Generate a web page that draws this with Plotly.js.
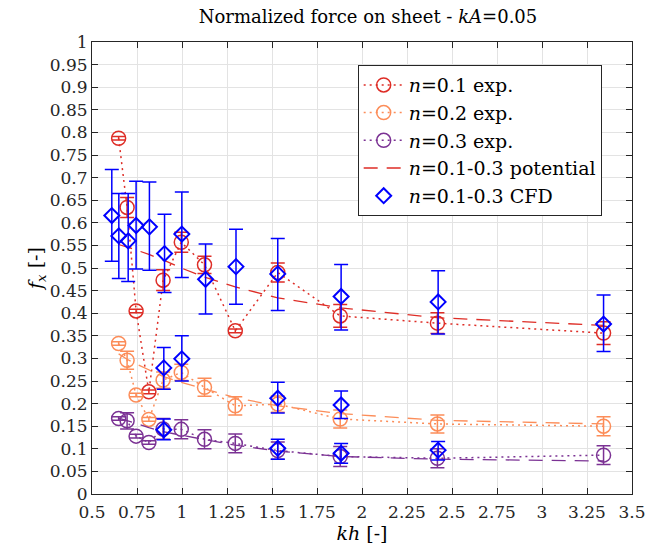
<!DOCTYPE html>
<html>
<head>
<meta charset="utf-8">
<script src="https://cdn.plot.ly/plotly-3.0.1.min.js"></script>
<style>html,body{margin:0;padding:0;background:#fff;}#chart{width:649px;height:555px;}</style>
</head>
<body>
<div id="chart"></div>
<script>
// Experimental kh values
const khExp = [0.648, 0.695, 0.745, 0.816, 0.895, 0.996, 1.125, 1.296, 1.532, 1.879, 2.419, 3.342];
// n = 0.1 experiment
const fxN01 = [0.787, 0.634, 0.405, 0.226, 0.473, 0.557, 0.507, 0.361, 0.490, 0.394, 0.378, 0.356];
const errN01 = [0.004, 0.022, 0.004, 0.004, 0.023, 0.022, 0.019, 0.004, 0.021, 0.025, 0.023, 0.025];
// n = 0.2 experiment
const fxN02 = [0.333, 0.296, 0.219, 0.165, 0.252, 0.269, 0.236, 0.195, 0.199, 0.166, 0.155, 0.150];
const errN02 = [0.004, 0.020, 0.004, 0.004, 0.018, 0.018, 0.020, 0.020, 0.018, 0.020, 0.020, 0.021];
// n = 0.3 experiment
const fxN03 = [0.167, 0.162, 0.128, 0.114, 0.144, 0.143, 0.121, 0.112, 0.096, 0.083, 0.079, 0.086];
const errN03 = [0.004, 0.018, 0.004, 0.004, 0.023, 0.021, 0.021, 0.021, 0.019, 0.022, 0.021, 0.021];
// potential theory
const potN01 = [0.552, 0.547, 0.540, 0.530, 0.518, 0.500, 0.480, 0.458, 0.434, 0.412, 0.390, 0.373];
const potN02 = [0.310, 0.298, 0.288, 0.275, 0.260, 0.247, 0.233, 0.213, 0.195, 0.178, 0.163, 0.155];
const potN03 = [0.168, 0.163, 0.156, 0.147, 0.138, 0.130, 0.121, 0.108, 0.095, 0.083, 0.077, 0.073];
// CFD
const khCFD = [0.610, 0.649, 0.701, 0.745, 0.819, 0.903, 0.999, 1.131, 1.300, 1.532, 1.884, 2.423, 3.342,
               0.899, 0.999, 1.532, 1.884, 0.899, 1.532, 1.884, 2.423];
const fxCFD = [0.616, 0.571, 0.560, 0.594, 0.591, 0.532, 0.575, 0.475, 0.503, 0.487, 0.437, 0.425, 0.376,
               0.279, 0.299, 0.212, 0.197, 0.142, 0.101, 0.090, 0.097];
const errCFDplus = [0.102, 0.094, 0.105, 0.098, 0.099, 0.087, 0.093, 0.078, 0.083, 0.078, 0.071, 0.069, 0.064,
                    0.045, 0.051, 0.035, 0.031, 0.024, 0.020, 0.022, 0.019];
const errCFDminus = [0.101, 0.094, 0.090, 0.096, 0.096, 0.086, 0.096, 0.077, 0.083, 0.081, 0.074, 0.071, 0.061,
                     0.047, 0.049, 0.033, 0.030, 0.022, 0.024, 0.022, 0.022];

const cRed = '#de2d26', cOrange = '#fc8d59', cPurple = '#7b3294', cBlue = '#0000ff';
const fontFam = 'DejaVu Serif';

function expTrace(y, err, color, name) {
  return {
    x: khExp, y: y, name: name, type: 'scatter', mode: 'lines+markers',
    line: {color: color, width: 1.5, dash: '2px,4px'},
    marker: {symbol: 'circle-open', size: 14, color: color, line: {width: 1.5, color: color}},
    error_y: {type: 'data', array: err, visible: true, color: color, thickness: 1.5, width: 7}
  };
}
function potTrace(y, color, name, show) {
  return {
    x: khExp, y: y, name: name, type: 'scatter', mode: 'lines', showlegend: show,
    line: {color: color, width: 1.3, dash: '14px,9px'}
  };
}

const data = [
  expTrace(fxN01, errN01, cRed, '<i>n</i>=0.1 exp.'),
  expTrace(fxN02, errN02, cOrange, '<i>n</i>=0.2 exp.'),
  expTrace(fxN03, errN03, cPurple, '<i>n</i>=0.3 exp.'),
  potTrace(potN01, cRed, '<i>n</i>=0.1-0.3 potential', true),
  potTrace(potN02, cOrange, 'n=0.2 potential', false),
  potTrace(potN03, cPurple, 'n=0.3 potential', false),
  {
    x: khCFD, y: fxCFD, name: '<i>n</i>=0.1-0.3 CFD', type: 'scatter', mode: 'markers',
    marker: {symbol: 'diamond-open', size: 11.5, color: cBlue, line: {width: 2, color: cBlue}},
    error_y: {type: 'data', symmetric: false, array: errCFDplus, arrayminus: errCFDminus,
              visible: true, color: cBlue, thickness: 1.5, width: 7}
  }
];

const axisCommon = {
  showgrid: true, gridcolor: '#e3e3e3', gridwidth: 1,
  showline: true, linecolor: '#262626', linewidth: 1, mirror: 'ticks',
  ticks: 'inside', ticklen: 6, tickcolor: '#262626', zeroline: false,
  tickfont: {family: fontFam, size: 17, color: '#262626'}
};

const layout = {
  width: 649, height: 555,
  margin: {l: 92, r: 17, t: 42, b: 61},
  paper_bgcolor: '#ffffff', plot_bgcolor: '#ffffff',
  font: {family: fontFam, color: '#000'},
  title: {text: 'Normalized force on sheet - <i>kA</i>=0.05', font: {family: fontFam, size: 18, color: '#000'},
          x: 0.567, xanchor: 'center', y: 0.97, yanchor: 'middle'},
  xaxis: Object.assign({}, axisCommon, {
    range: [0.5, 3.5], dtick: 0.25, tick0: 0.5, ticklabelstandoff: 3,
    title: {text: '<i>kh</i> [-]', font: {family: fontFam, size: 19, color: '#000'}, standoff: 4}
  }),
  yaxis: Object.assign({}, axisCommon, {
    range: [0, 1], dtick: 0.05, tick0: 0,
    title: {text: '<i>f<sub>x</sub></i> [-]', font: {family: fontFam, size: 19, color: '#000'}, standoff: 2}
  }),
  legend: {
    x: 0.492, y: 0.949, xanchor: 'left', yanchor: 'top',
    bgcolor: '#ffffff', bordercolor: '#262626', borderwidth: 1,
    font: {family: fontFam, size: 19, color: '#000'},
    itemwidth: 40, tracegroupgap: 0
  },
  showlegend: true
};

Plotly.newPlot('chart', data, layout, {displayModeBar: false, staticPlot: true});
</script>
</body>
</html>
